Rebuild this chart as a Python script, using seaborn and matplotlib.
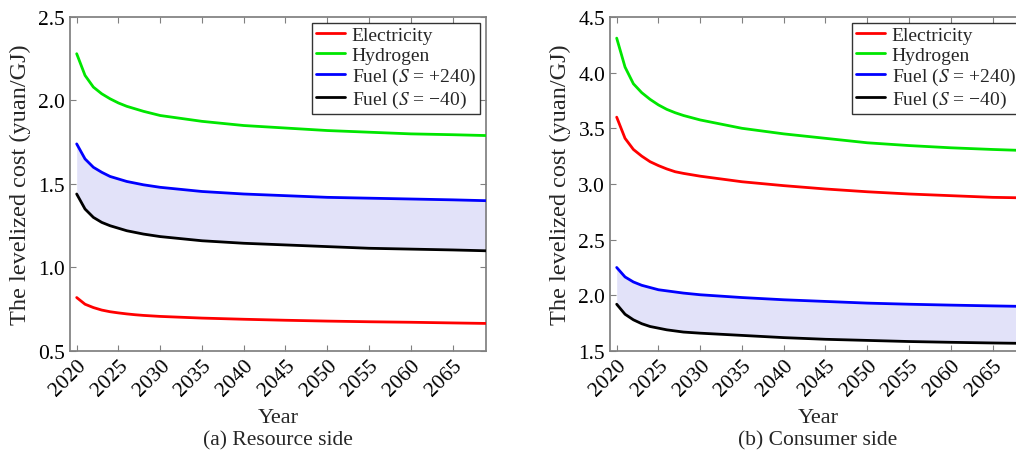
import numpy as np
import pandas as pd
import matplotlib.pyplot as plt
import seaborn as sns

# --- Data ---
years = [2020, 2021, 2022, 2023, 2024, 2025, 2026, 2027, 2028,
         2030, 2035, 2040, 2045, 2050, 2055, 2060, 2065, 2069]

# (a) Resource side
res_electricity = [0.82, 0.78, 0.76, 0.745, 0.735, 0.728, 0.722, 0.717, 0.713,
                   0.707, 0.697, 0.690, 0.684, 0.679, 0.675, 0.672, 0.668, 0.665]
res_hydrogen = [2.28, 2.15, 2.08, 2.04, 2.01, 1.985, 1.965, 1.95, 1.935,
                1.91, 1.875, 1.85, 1.835, 1.82, 1.81, 1.80, 1.795, 1.79]
res_fuel_hi = [1.74, 1.65, 1.60, 1.57, 1.545, 1.53, 1.515, 1.505, 1.495,
               1.48, 1.455, 1.44, 1.43, 1.42, 1.415, 1.41, 1.405, 1.40]
res_fuel_lo = [1.44, 1.35, 1.30, 1.27, 1.25, 1.235, 1.22, 1.21, 1.20,
               1.185, 1.16, 1.145, 1.135, 1.125, 1.115, 1.11, 1.105, 1.10]

# (b) Consumer side
con_electricity = [3.60, 3.41, 3.31, 3.25, 3.20, 3.165, 3.135, 3.11, 3.095,
                   3.07, 3.02, 2.985, 2.955, 2.93, 2.91, 2.895, 2.88, 2.875]
con_hydrogen = [4.31, 4.05, 3.90, 3.82, 3.76, 3.71, 3.67, 3.64, 3.615,
                3.575, 3.50, 3.45, 3.41, 3.37, 3.345, 3.325, 3.31, 3.30]
con_fuel_hi = [2.25, 2.165, 2.12, 2.09, 2.07, 2.05, 2.04, 2.03, 2.02,
               2.005, 1.98, 1.96, 1.945, 1.93, 1.92, 1.912, 1.905, 1.90]
con_fuel_lo = [1.92, 1.83, 1.78, 1.745, 1.72, 1.705, 1.69, 1.68, 1.67,
               1.66, 1.64, 1.62, 1.605, 1.595, 1.585, 1.578, 1.572, 1.568]

series_names = ["Electricity", "Hydrogen", "Fuel ($S$ = +240)", "Fuel ($S$ = \u221240)"]
palette = dict(zip(series_names, ["#ff0000", "#00e600", "#0000ff", "#000000"]))

year_ticks = list(range(2020, 2070, 5))

# --- Style ---
sns.set_theme(style="ticks")
plt.rcParams["font.family"] = ["Liberation Serif", "DejaVu Serif"]
plt.rcParams["mathtext.fontset"] = "stix"
plt.rcParams["axes.edgecolor"] = "#808080"
plt.rcParams["xtick.color"] = "#808080"
plt.rcParams["ytick.color"] = "#808080"
plt.rcParams["xtick.labelcolor"] = "black"
plt.rcParams["ytick.labelcolor"] = "black"


def make_frame(values):
    frames = []
    for name, vals in zip(series_names, values):
        frames.append(pd.DataFrame({"Year": years, "Cost": vals, "Series": name}))
    return pd.concat(frames, ignore_index=True)


def draw_panel(ax, values, ylim, yticks, caption):
    df = make_frame(values)
    ax.fill_between(years, values[3], values[2], color="#e2e2f9", lw=0, zorder=1)
    sns.lineplot(data=df, x="Year", y="Cost", hue="Series", palette=palette,
                 linewidth=2.0, ax=ax, zorder=3)
    ax.set_xlim(2019.2, 2069)
    ax.set_ylim(*ylim)
    ax.set_xticks(year_ticks)
    ax.set_yticks(yticks)
    ax.set_yticklabels([f"{t:.1f}" for t in yticks])
    ax.tick_params(direction="in", top=True, right=True, length=4, width=0.8,
                   labelsize=15.5)
    for lab in ax.get_xticklabels():
        lab.set_rotation(45)
        lab.set_ha("right")
        lab.set_rotation_mode("anchor")
    ax.set_xlabel("Year", fontsize=16, labelpad=6)
    ax.set_ylabel("The levelized cost (yuan/GJ)", fontsize=17.5, labelpad=5)
    leg = ax.legend(loc="upper right", fontsize=14, frameon=True, fancybox=False,
                    borderaxespad=0.3, handlelength=1.5, labelspacing=0.1,
                    borderpad=0.2, handletextpad=0.35)
    leg.get_frame().set_edgecolor("black")
    leg.get_frame().set_linewidth(1.0)
    for line in leg.get_lines():
        line.set_linewidth(2.0)
    box = ax.get_position()
    fig.text(box.x0 + box.width / 2, 0.034, caption, ha="center", va="center",
             fontsize=15.5)


fig = plt.figure(figsize=(10.16, 4.56), dpi=100)
ax1 = fig.add_axes([0.0689, 0.2281, 0.4094, 0.7325])
ax2 = fig.add_axes([0.6004, 0.2281, 0.4094, 0.7325])

draw_panel(ax1, [res_electricity, res_hydrogen, res_fuel_hi, res_fuel_lo],
           (0.5, 2.5), [0.5, 1.0, 1.5, 2.0, 2.5], "(a) Resource side")
draw_panel(ax2, [con_electricity, con_hydrogen, con_fuel_hi, con_fuel_lo],
           (1.5, 4.5), [1.5, 2.0, 2.5, 3.0, 3.5, 4.0, 4.5], "(b) Consumer side")

fig.savefig("out.png", dpi=100)
